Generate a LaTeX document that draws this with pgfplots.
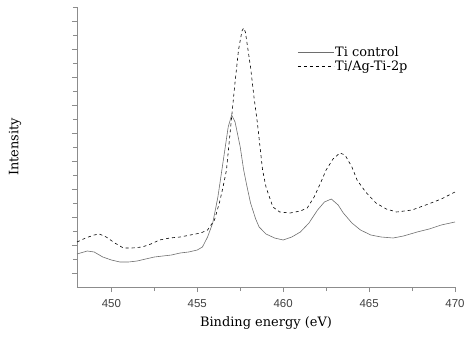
\documentclass[border=0pt]{standalone}
\usepackage{fontspec}
\setmainfont{DejaVu Serif}
\newfontfamily\ticksans{Liberation Sans}
\usepackage{pgfplots}
\pgfplotsset{compat=1.18}
\definecolor{axgray}{HTML}{8C8C8C}
\definecolor{linegray}{HTML}{6E6E6E}
\definecolor{ticktext}{HTML}{404040}
\begin{document}
\begin{tikzpicture}
\begin{axis}[
  scale only axis,
  width=378bp, height=280bp,
  xmin=448, xmax=470, ymin=0, ymax=280,
  axis x line=bottom, axis y line=left,
  axis line style={axgray, -},
  xtick={450,455,460,465,470},
  minor xtick={452.5,457.5,462.5,467.5},
  ytick={14,42,70,98,126,154,182,210,238,266},
  minor ytick={28,56,84,112,140,168,196,224,252,280},
  yticklabels={},
  tick align=outside,
  major tick length=5bp, minor tick length=4bp,
  every tick/.style={axgray, thin},
  tick label style={font=\ticksans\fontsize{11.5}{13}\selectfont, text=ticktext},
  /pgf/number format/assume math mode=true,
  xticklabel style={yshift=-4bp},
  xlabel={Binding energy (eV)},
  ylabel={Intensity},
  label style={font=\fontsize{13}{15}\selectfont},
  xlabel style={yshift=-2bp},
  ylabel style={at={(axis description cs:-0.164,0.5)}, anchor=center},
  legend style={draw=none, fill=none, at={(0.575,0.875)}, anchor=north west,
    font=\fontsize{13}{15}\selectfont, row sep=-1bp,
    /tikz/every node/.append style={inner xsep=1bp}},
  legend cell align=left,
  legend image code/.code={\draw[#1] (0bp,0bp) -- (36bp,0bp);},
]
\addplot[linegray, line width=0.6pt] coordinates {
(448.0,33)(448.6,36)(449.0,35)(449.5,30)(450.0,27)(450.5,25)(451.0,25)(451.5,26)
(452.0,28)(452.5,30)(453.0,31)(453.5,32)(454.0,34)(454.5,35)(455.0,37)(455.3,40)
(455.6,50)(455.9,64)(456.2,90)(456.5,125)(456.8,160)(457.0,172)(457.2,165)(457.5,140)
(457.7,117)(457.9,100)(458.1,84)(458.4,68)(458.6,60)(459.0,53)(459.5,49)(460.0,47)
(460.5,50)(461.0,55)(461.5,64)(462.0,77)(462.4,85)(462.8,88)(463.2,82)(463.5,74)
(464.0,64)(464.5,57)(465.1,52)(465.7,50)(466.4,49)(467.0,51)(467.8,55)(468.5,58)
(469.2,62)(470.0,65)};
\addlegendentry{Ti control}
\addplot[black, line width=0.6pt, dash pattern=on 3bp off 3bp] coordinates {
(448.0,45)(448.5,49)(449.0,52)(449.3,53)(449.7,50)(450.2,44)(450.7,39)(451.2,39)
(451.8,40)(452.3,43)(452.8,47)(453.4,49)(454.0,50)(454.6,52)(455.2,54)(455.6,57)
(456.0,67)(456.3,85)(456.5,100)(456.7,117)(457.0,170)(457.2,205)(457.4,237)(457.6,256)
(457.7,259)(457.8,255)(458.1,220)(458.3,190)(458.5,164)(458.8,117)(459.0,100)(459.4,80)
(459.8,75)(460.4,74)(461.0,76)(461.4,79)(461.8,90)(462.2,105)(462.5,117)(462.9,128)
(463.3,134)(463.6,132)(464.0,120)(464.3,107)(464.8,95)(465.4,84)(466.0,78)(466.6,75)
(467.5,77)(468.3,82)(469.2,88)(470.0,95)};
\addlegendentry{Ti/Ag-Ti-2p}
\end{axis}
\pgfresetboundingbox
\path (-77bp,-51bp) rectangle (388bp,287bp);
\end{tikzpicture}
\end{document}
